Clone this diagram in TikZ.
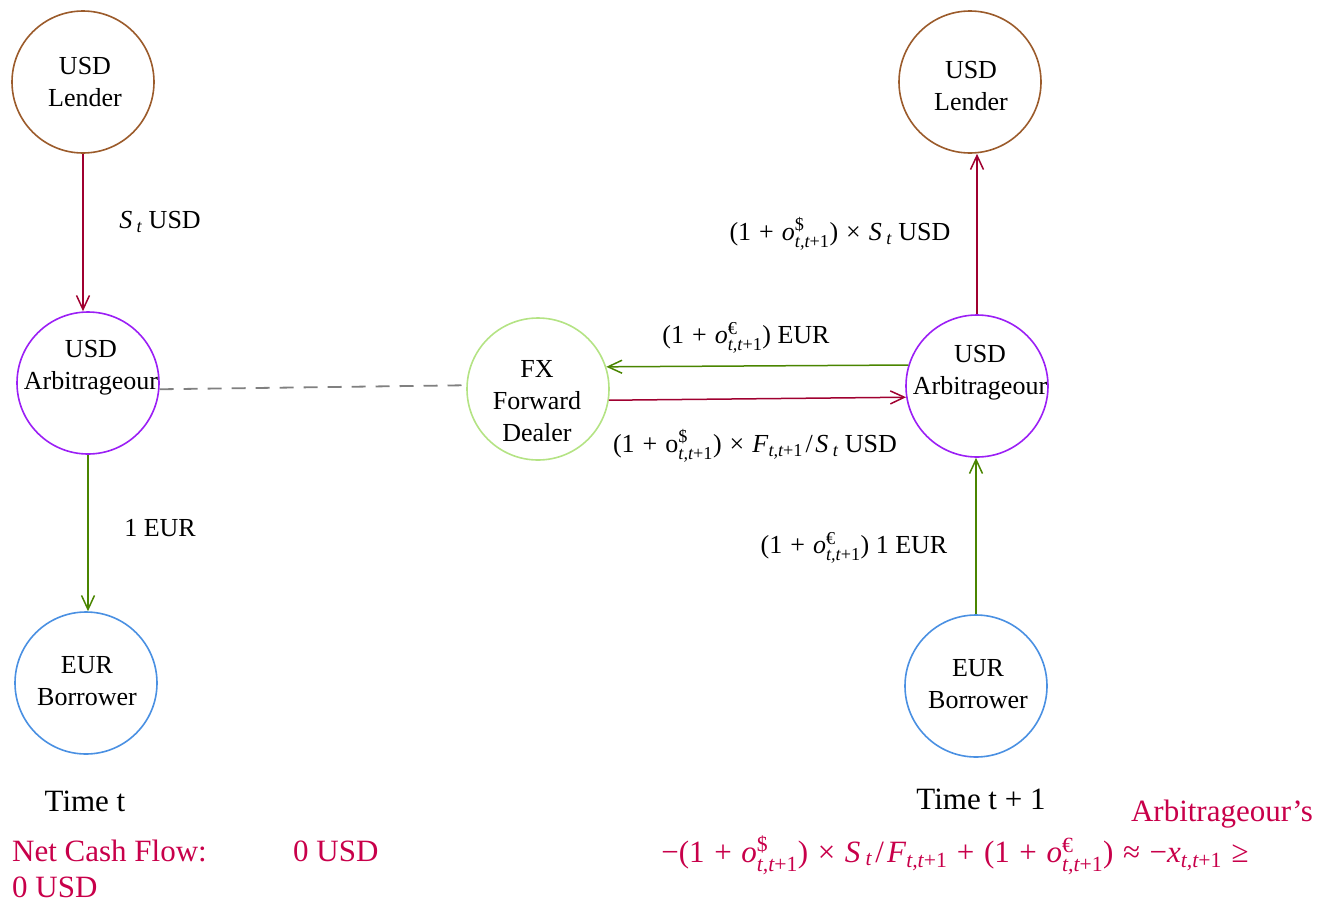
\documentclass[tikz,border=0pt]{standalone}
\usepackage{fontspec}
\usepackage{amsmath}
\setmainfont{Liberation Serif}
\usetikzlibrary{arrows.meta}
\definecolor{lendc}{HTML}{9B5B2B}
\definecolor{arbc}{HTML}{9B1FF5}
\definecolor{borc}{HTML}{4A90E2}
\definecolor{dealc}{HTML}{B4E384}
\definecolor{redc}{HTML}{A00030}
\definecolor{grnc}{HTML}{4A8500}
\definecolor{netc}{HTML}{C8004A}
\definecolor{dashc}{HTML}{808080}
\newcommand{\osym}[2]{#1${}^{\text{#2}}_{\text{\itshape t,t\upshape +1}}$}
\newcommand{\tsub}{\hspace{0.17em}$_{\text{\itshape t}}$}
\newcommand{\ttsub}{$_{\text{\itshape t,t\upshape +1}}$}
\newcommand{\pls}{\ \hspace{0.06em}+\hspace{0.06em}\ }
\newcommand{\tms}{\ \hspace{0.06em}×\hspace{0.06em}\ }
\newcommand{\slh}{\hspace{0.1em}/\hspace{0.1em}}
\newcommand{\apx}{\ \hspace{0.06em}≈\hspace{0.06em}\ }
\newcommand{\gtq}{\ \hspace{0.06em}≥}
\tikzset{
  circ/.style={circle, minimum size=142pt, inner sep=0pt, line width=1.6pt},
  ctext/.style={align=center, font=\fontsize{26}{32}\selectfont, inner sep=0pt},
  lbl/.style={font=\fontsize{26}{32}\selectfont, inner sep=0pt},
  big/.style={font=\fontsize{31}{36}\selectfont, inner sep=0pt},
  flow/.style={line width=1.5pt, -{Straight Barb[length=14pt,width=13pt,line width=1.5pt]}},
  redflow/.style={flow, draw=redc},
  grnflow/.style={flow, draw=grnc},
}
\begin{document}
\begin{tikzpicture}[x=1pt,y=-1pt]
\useasboundingbox (0,0) rectangle (1334,903);
% circles
\node[circ, draw=lendc] (llend) at (83,82) {};
\node[circ, draw=arbc] (larb) at (88,383) {};
\node[circ, draw=borc] (lbor) at (86,683) {};
\node[circ, draw=dealc] (dealer) at (538,389) {};
\node[circ, draw=lendc] (rlend) at (970,82) {};
\node[circ, draw=arbc] (rarb) at (977,386) {};
\node[circ, draw=borc] (rbor) at (976,686) {};
% circle texts
\node[ctext] (tllend) at (85,82) {USD\\Lender};
\node[ctext] (tlarb) at (91,368) {USD\\Arbitrageour};
\node[ctext] (tlbor) at (87,681) {EUR\\Borrower};
\node[ctext] (tdealer) at (537,401) {FX\\Forward\\Dealer};
\node[ctext] (trlend) at (971,86) {USD\\Lender};
\node[ctext] (trarb) at (980,373) {USD\\Arbitrageour};
\node[ctext] (trbor) at (978,684) {EUR\\Borrower};
% connectors
\draw[redflow] (llend.south) -- (llend.south |- larb.north);
\draw[grnflow] (larb.south) -- (larb.south |- lbor.north);
\draw[dashc, line width=1.8pt, dash pattern=on 14pt off 10pt] (larb.-5) -- (dealer.177);
\draw[grnflow] (rarb.163) -- (dealer.18);
\draw[redflow] (dealer.-9) -- (rarb.189);
\draw[redflow] (rarb.north) -- (rarb.north |- rlend.south);
\draw[grnflow] (rbor.north) -- (rbor.north |- rarb.south);
% labels
\node[lbl] (l1) at (160,222) {\textit{S}\tsub{} USD};
\node[lbl] (l2) at (160,528) {1 EUR};
\node[lbl] (l3) at (840,234) {(1\pls\osym{\textit{o}}{\$})\tms\textit{S}\tsub{} USD};
\node[lbl] (l4) at (746,338) {(1\pls\osym{\textit{o}}{€}) EUR};
\node[lbl] (l5) at (755,446) {(1\pls\osym{o}{\$})\tms\textit{F}\ttsub\slh\textit{S}\tsub{} USD};
\node[lbl] (l6) at (854,548) {(1\pls\osym{\textit{o}}{€}) 1 EUR};
% bottom texts
\node[big, anchor=base] (time1) at (85,811) {Time t};
\node[big, anchor=base] (time2) at (981,809) {Time t + 1};
\node[big, anchor=base west, text=netc] (net) at (12,861) {Net Cash Flow:};
\node[big, anchor=base west, text=netc] (net0) at (293,861) {0 USD};
\node[big, anchor=base west, text=netc] (net00) at (12,897) {0 USD};
\node[big, anchor=base, text=netc] (arbs) at (1222,821) {Arbitrageour’s};
\node[big, anchor=base, text=netc] (form) at (955,862) {−(1\pls\osym{\textit{o}}{\$})\tms\textit{S}\tsub\slh\textit{F}\ttsub{}\pls(1\pls\osym{\textit{o}}{€})\apx−\textit{x}\ttsub{}\gtq};
\end{tikzpicture}
\end{document}
